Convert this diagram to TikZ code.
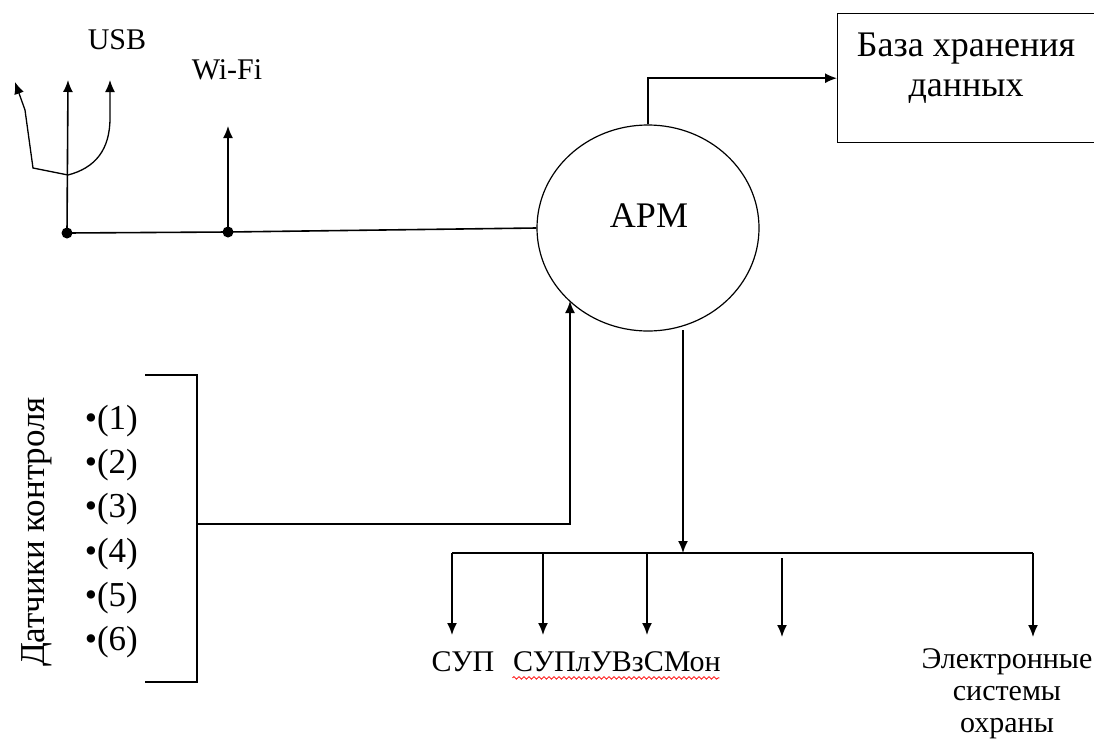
\documentclass[tikz,border=0pt]{standalone}
\usepackage{fontspec}
\setmainfont{Liberation Serif}
\usetikzlibrary{arrows.meta,decorations.pathmorphing,shapes.geometric}
\begin{document}
\begin{tikzpicture}[x=1pt,y=-1pt,
  line width=1.6pt,
  >={Latex[length=12pt,width=10pt]},
  lbl/.style={inner sep=0pt, font=\fontsize{30}{32}\selectfont},
  big/.style={inner sep=0pt, font=\fontsize{36}{40}\selectfont},
  item/.style={inner sep=0pt, font=\fontsize{35}{40}\selectfont},
  dot/.style={circle, fill=black, inner sep=0pt, minimum size=11pt},
  wavy/.style={red, line width=0.8pt, decorate, decoration={snake, amplitude=1.3pt, segment length=5pt}}]
\useasboundingbox (0,0) rectangle (1094,742);
\clip (0,0) rectangle (1094,742);

% central workstation
\node[draw, ellipse, line width=1.2pt, minimum width=222pt, minimum height=206pt, inner sep=0pt] (arm) at (648,228) {};
\node[big] (armt) at (649,216) {АРМ};

% database box
\node[draw, line width=1.4pt, anchor=north west, minimum width=270pt, minimum height=129pt, inner sep=0pt] (db) at (837,13) {};
\node[big, align=center] (dbt) at (966,68) {База хранения\\данных};
\draw[->] (arm.north) |- (db.west);

% USB / Wi-Fi
\node[dot] (dotU) at (67,233) {};
\node[dot] (dotW) at (228,232) {};
\draw (dotU.center) -- (dotW.center) -- (arm.west);
\coordinate (usbM) at (68,80);
\coordinate (usbR) at (110,80);
\coordinate (usbL) at (15,82);
\coordinate (fork) at (68,175);
\draw[->] (dotU.center) -- (usbM);
\draw[->, line width=1.3pt] (fork) .. controls (95,168) and (110,150) .. (110,118) -- (usbR);
\draw[->, line width=1.3pt] (fork) -- (33,168) -- (25,110) -- (usbL);
\node[lbl] (usb) at (117,40) {USB};
\coordinate (wifiT) at (228,126);
\draw[->] (dotW.center) -- (wifiT);
\node[lbl] (wifi) at (227,70) {Wi-Fi};

% sensors
\node[item, rotate=90] (dat) at (37,532) {Датчики контроля};
\foreach \i in {1,...,6}{
  \node[item, anchor=west] (s\i) at (84,{421+44.2*(\i-1)}) {•(\i)};
}
\coordinate (brTL) at (145,375);
\coordinate (brTR) at (197,375);
\coordinate (brBR) at (197,682);
\coordinate (brBL) at (145,682);
\coordinate (brOut) at (197,524);
\coordinate (armIn) at (570,301);
\draw (brTL) -- (brTR) -- (brBR) -- (brBL);
\draw[->] (brOut) -| (armIn);

% outputs
\coordinate (armOut) at (683,330);
\coordinate (busC) at (683,553);
\coordinate (busL) at (452,553);
\coordinate (busR) at (1033,553);
\draw[->] (armOut) -- (busC);
\draw (busL) -- (busR);
\coordinate (b2) at (543,553);
\coordinate (b3) at (647,553);
\coordinate (b4) at (782,558);
\coordinate (e1) at (452,635);
\coordinate (e2) at (543,635);
\coordinate (e3) at (647,635);
\coordinate (e4) at (782,637);
\coordinate (e5) at (1033,637);
\draw[->] (busL) -- (e1);
\draw[->] (b2) -- (e2);
\draw[->] (b3) -- (e3);
\draw[->] (b4) -- (e4);
\draw[->] (busR) -- (e5);

\node[lbl] (sup) at (463,662) {СУП};
\node[lbl] (sup2) at (617,662) {СУПлУВзСМон};
\draw[wavy] (sup2.south west) ++(0,5) -- ++(207,0);
\node[lbl, align=center] (eso) at (1007,694) {Электронные\\системы\\охраны};
\end{tikzpicture}
\end{document}
